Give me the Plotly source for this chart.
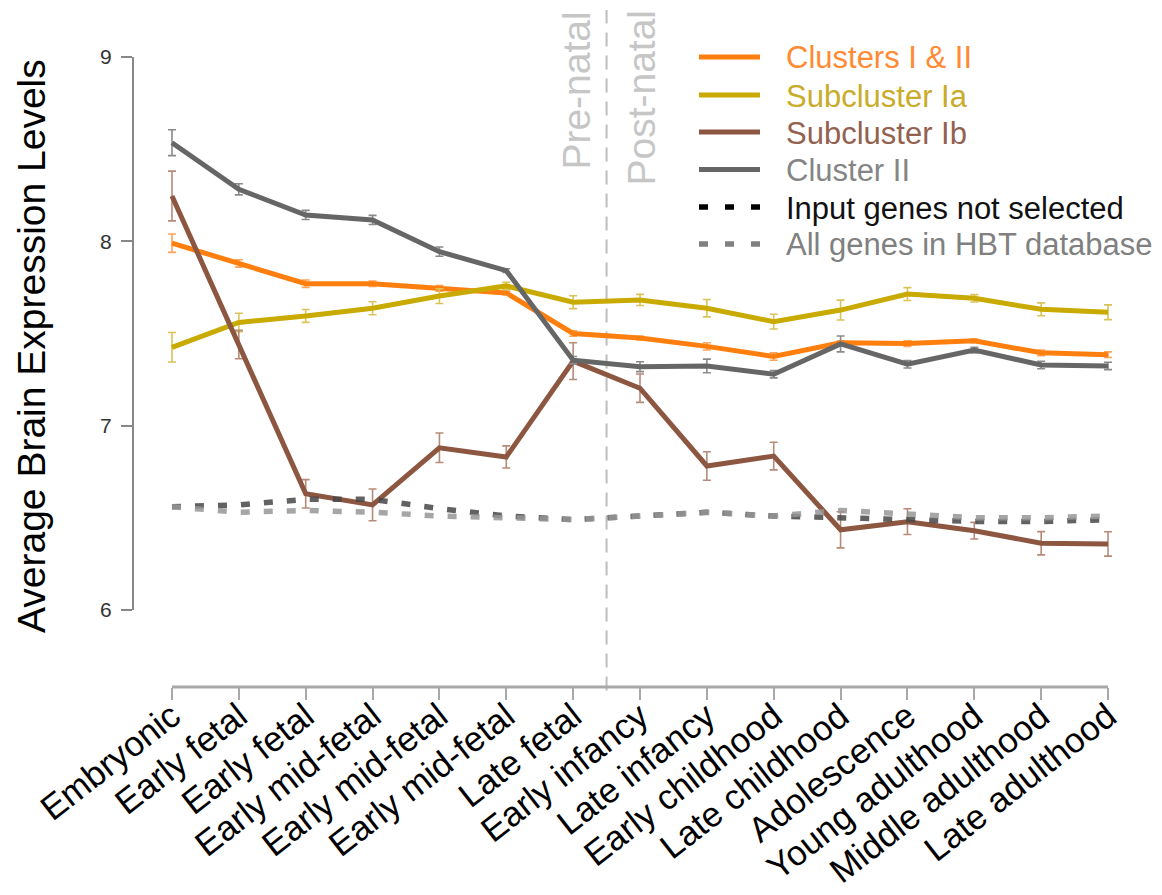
import plotly.graph_objects as go

# Developmental stages (x axis)
stages = [
    "Embryonic", "Early fetal", "Early fetal", "Early mid-fetal", "Early mid-fetal",
    "Early mid-fetal", "Late fetal", "Early infancy", "Late infancy", "Early childhood",
    "Late childhood", "Adolescence", "Young adulthood", "Middle adulthood", "Late adulthood",
]

# Mean expression per stage and its error
clusters_I_II = [7.99, 7.88, 7.77, 7.77, 7.745, 7.72, 7.50, 7.475, 7.43, 7.375, 7.45, 7.445, 7.46, 7.395, 7.385]
clusters_I_II_err = [0.05, 0.02, 0.02, 0.015, 0.015, 0.01, 0.015, 0.01, 0.02, 0.02, 0.01, 0.015, 0.01, 0.015, 0.015]

subcluster_Ia = [7.425, 7.56, 7.595, 7.637, 7.703, 7.758, 7.67, 7.682, 7.637, 7.564, 7.627, 7.714, 7.691, 7.631, 7.615]
subcluster_Ia_err = [0.08, 0.05, 0.035, 0.035, 0.04, 0.02, 0.035, 0.03, 0.047, 0.04, 0.054, 0.035, 0.02, 0.035, 0.04]

subcluster_Ib = [8.246, 7.44, 6.63, 6.57, 6.88, 6.83, 7.35, 7.203, 6.781, 6.835, 6.435, 6.479, 6.43, 6.362, 6.358]
subcluster_Ib_err = [0.135, 0.077, 0.077, 0.086, 0.08, 0.06, 0.1, 0.077, 0.077, 0.075, 0.098, 0.07, 0.045, 0.063, 0.066]

cluster_II = [8.535, 8.282, 8.143, 8.116, 7.944, 7.841, 7.355, 7.32, 7.324, 7.279, 7.443, 7.333, 7.41, 7.329, 7.324]
cluster_II_err = [0.07, 0.03, 0.025, 0.025, 0.025, 0.01, 0.02, 0.027, 0.037, 0.02, 0.043, 0.02, 0.015, 0.02, 0.02]

input_not_selected = [6.56, 6.57, 6.60, 6.60, 6.55, 6.51, 6.49, 6.51, 6.53, 6.51, 6.50, 6.49, 6.48, 6.48, 6.49]
all_hbt_genes = [6.56, 6.53, 6.54, 6.53, 6.51, 6.50, 6.49, 6.51, 6.53, 6.51, 6.54, 6.52, 6.50, 6.50, 6.51]

y_ticks = [6, 7, 8, 9]
birth_position = 6.5  # between "Late fetal" and "Early infancy"

FONT = "Liberation Sans, Arial, Helvetica, sans-serif"
W, H = 1162, 895
M_L, M_R, M_T, M_B = 133, 15, 10, 208
PLOT_W = W - M_L - M_R
PLOT_H = H - M_T - M_B


def px_x(px):
    return (px - M_L) / PLOT_W


def px_y(py):
    return (H - M_B - py) / PLOT_H


x = list(range(len(stages)))

solid_series = [
    ("Clusters I & II", clusters_I_II, clusters_I_II_err, "#ff7f0e", "#ffa25a", "#ff8a33"),
    ("Subcluster Ia", subcluster_Ia, subcluster_Ia_err, "#c9aa00", "#d9c35a", "#c9ac2a"),
    ("Subcluster Ib", subcluster_Ib, subcluster_Ib_err, "#8c5641", "#b88a78", "#93614f"),
    ("Cluster II", cluster_II, cluster_II_err, "#666666", "#8a8a8a", "#858585"),
]
dashed_series = [
    ("Input genes not selected", input_not_selected, "rgba(70,70,70,0.85)", "#111111", "#000000"),
    ("All genes in HBT database", all_hbt_genes, "rgba(150,150,150,0.85)", "#808080", "#808080"),
]

fig = go.Figure()

for name, vals, err, color, ecolor, _ in solid_series:
    fig.add_trace(go.Scatter(
        x=x, y=vals, mode="lines", name=name, showlegend=False,
        line=dict(color=color, width=5),
        error_y=dict(type="data", array=err, visible=True, color=ecolor, thickness=1.6, width=4),
    ))

for name, vals, color, _, _ in dashed_series:
    fig.add_trace(go.Scatter(
        x=x, y=vals, mode="lines", name=name, showlegend=False,
        line=dict(color=color, width=5.5, dash="9px,14px"),
    ))

shapes = [
    # vertical birth separator
    dict(type="line", xref="x", yref="paper", x0=birth_position, x1=birth_position, y0=-0.005, y1=1,
         line=dict(color="#bdbdbd", width=2, dash="14px,9px"), layer="below"),
    # x axis line spanning the stages
    dict(type="line", xref="x", yref="paper", x0=0, x1=len(stages) - 1, y0=0, y1=0,
         line=dict(color="#a8a8a8", width=3)),
    # y axis line spanning the tick range
    dict(type="line", xref="paper", yref="y", x0=0, x1=0, y0=y_ticks[0], y1=y_ticks[-1],
         line=dict(color="#888888", width=2)),
]

annotations = [
    dict(text="Average Brain Expression Levels", xref="paper", yref="paper",
         x=px_x(31), y=px_y(346), textangle=-90, showarrow=False,
         xanchor="center", yanchor="middle", font=dict(family=FONT, size=39, color="#000000")),
    dict(text="Pre-natal", xref="x", yref="paper", x=birth_position, y=1, xshift=-31, yshift=0,
         textangle=-90, showarrow=False, xanchor="center", yanchor="top",
         font=dict(family=FONT, size=39, color="#c6c6c6")),
    dict(text="Post-natal", xref="x", yref="paper", x=birth_position, y=1, xshift=34, yshift=2,
         textangle=-90, showarrow=False, xanchor="center", yanchor="top",
         font=dict(family=FONT, size=39, color="#c6c6c6")),
]

# Legend rows
legend_rows_y = [57, 95, 132, 169.5, 207, 244]
legend_entries = [(s[0], s[3], s[5], "solid") for s in solid_series] + \
                 [(d[0], d[4], d[3], "dash") for d in dashed_series]
for (name, lcolor, tcolor, style), ry in zip(legend_entries, legend_rows_y):
    shapes.append(dict(
        type="line", xref="paper", yref="paper",
        x0=px_x(699), x1=px_x(760), y0=px_y(ry), y1=px_y(ry),
        line=dict(color=lcolor, width=5 if style == "solid" else 5.5,
                  dash="solid" if style == "solid" else "9px,17px"),
    ))
    annotations.append(dict(
        text=name, xref="paper", yref="paper", x=px_x(784), y=px_y(ry + 1),
        xanchor="left", yanchor="middle", showarrow=False,
        font=dict(family=FONT, size=31, color=tcolor),
    ))

fig.update_layout(
    width=W, height=H,
    margin=dict(l=M_L, r=M_R, t=M_T, b=M_B),
    paper_bgcolor="white", plot_bgcolor="white",
    showlegend=False,
    shapes=shapes,
    annotations=annotations,
    xaxis=dict(
        range=[-0.583, 14.583], tickmode="array", tickvals=x, ticktext=stages,
        tickangle=-38, ticks="outside", ticklen=12, tickwidth=2, tickcolor="#a8a8a8",
        showline=False, showgrid=False, zeroline=False, automargin=False,
        ticklabelstandoff=-18,
        tickfont=dict(family=FONT, size=35, color="#000000"),
    ),
    yaxis=dict(
        range=[5.582, 9.255], tickmode="array", tickvals=y_ticks,
        ticks="outside", ticklen=11, tickwidth=2, tickcolor="#888888",
        showline=False, showgrid=False, zeroline=False, automargin=False,
        ticklabelstandoff=5,
        tickfont=dict(family=FONT, size=21, color="#333333"),
    ),
)

fig.write_html("out.html")
